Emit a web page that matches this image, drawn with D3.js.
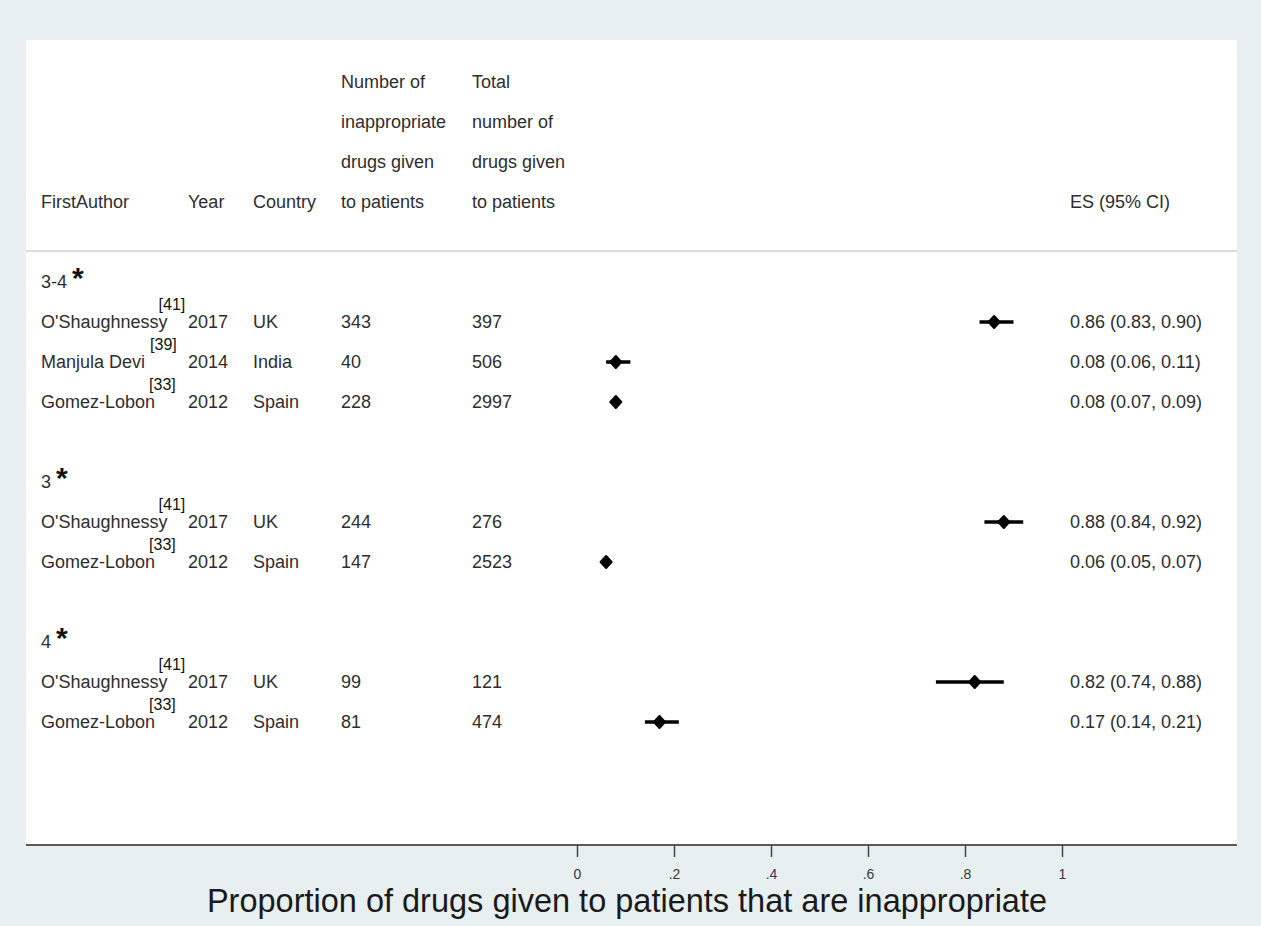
<!DOCTYPE html>
<html>
<head>
<meta charset="utf-8">
<script src="https://cdn.jsdelivr.net/npm/d3@7"></script>
<style>
  body { margin: 0; background: #e8eff1; }
  svg { display: block; font-family: "Liberation Sans", Arial, sans-serif; }
</style>
</head>
<body>
<svg id="chart"></svg>
<script>
// ---- data ----
const groups = ["3-4", "3", "4"];
const authors = ["O'Shaughnessy", "Manjula Devi", "Gomez-Lobon", "O'Shaughnessy", "Gomez-Lobon", "O'Shaughnessy", "Gomez-Lobon"];
const refs = ["[41]", "[39]", "[33]", "[41]", "[33]", "[41]", "[33]"];
const studyGroup = [0, 0, 0, 1, 1, 2, 2];
const years = [2017, 2014, 2012, 2017, 2012, 2017, 2012];
const countries = ["UK", "India", "Spain", "UK", "Spain", "UK", "Spain"];
const inappropriate = [343, 40, 228, 244, 147, 99, 81];
const totals = [397, 506, 2997, 276, 2523, 121, 474];
const es = [0.86, 0.08, 0.08, 0.88, 0.06, 0.82, 0.17];
const lower = [0.83, 0.06, 0.07, 0.84, 0.05, 0.74, 0.14];
const upper = [0.90, 0.11, 0.09, 0.92, 0.07, 0.88, 0.21];
const xTicks = [0, 0.2, 0.4, 0.6, 0.8, 1];
const headers = [
  { key: "author", lines: ["FirstAuthor"] },
  { key: "year", lines: ["Year"] },
  { key: "country", lines: ["Country"] },
  { key: "inap", lines: ["Number of", "inappropriate", "drugs given", "to patients"] },
  { key: "total", lines: ["Total", "number of", "drugs given", "to patients"] },
  { key: "es", lines: ["ES (95% CI)"] }
];
const axisTitle = "Proportion of drugs given to patients that are inappropriate";

const width = 1261, height = 926;
const panel = { left: 26, right: 1237, top: 40, bottom: 845 };
const colX = { author: 41, year: 188, country: 253, inap: 341, total: 472, es: 1070 };
const textColor = "#2e2e2e";
const fs = 18;

const svg = d3.select("#chart").attr("width", width).attr("height", height);

svg.append("rect")
  .attr("x", panel.left).attr("y", panel.top)
  .attr("width", panel.right - panel.left).attr("height", panel.bottom - panel.top)
  .attr("fill", "#fff");

// build the row list: group label, its studies, blank spacer
const rows = [];
groups.forEach((g, gi) => {
  rows.push({ type: "group", label: g });
  studyGroup.forEach((sg, i) => { if (sg === gi) rows.push({ type: "study", i }); });
  if (gi < groups.length - 1) rows.push({ type: "blank" });
});

const x = d3.scaleLinear().domain([0, 1]).range([577, 1062]);
const y = d3.scaleLinear().domain([0, rows.length - 1]).range([282, 282 + 40 * (rows.length - 1)]);
const headerY = d3.scaleLinear().domain([0, 3]).range([82, 202]);

// header
headers.forEach(h => {
  const off = 4 - h.lines.length;
  h.lines.forEach((ln, li) => {
    svg.append("text")
      .attr("x", colX[h.key]).attr("y", headerY(off + li))
      .attr("dy", "0.35em")
      .attr("font-size", fs).attr("fill", textColor)
      .text(ln);
  });
});

svg.append("line")
  .attr("x1", panel.left).attr("x2", panel.right)
  .attr("y1", 251).attr("y2", 251)
  .attr("stroke", "#dcdcdc").attr("stroke-width", 2);

// group labels with asterisk
rows.forEach((r, ri) => {
  if (r.type !== "group") return;
  const t = svg.append("text")
    .attr("x", colX.author).attr("y", y(ri)).attr("dy", "0.35em")
    .attr("font-size", fs).attr("fill", textColor);
  t.append("tspan").text(r.label);
  t.append("tspan").attr("dx", 5).attr("dy", 0).attr("font-size", 30)
    .attr("font-weight", "bold").attr("fill", "#111").text("*");
});

const studyRows = rows.map((r, ri) => ({ ...r, ri })).filter(r => r.type === "study");
const refShift = { "O'Shaughnessy": -9, "Manjula Devi": 5, "Gomez-Lobon": -6 };

const cells = svg.selectAll(".study").data(studyRows).enter().append("g").attr("class", "study");
cells.each(function (d) {
  const g = d3.select(this);
  const i = d.i, cy = y(d.ri);
  const name = g.append("text")
    .attr("x", colX.author).attr("y", cy).attr("dy", "0.35em")
    .attr("font-size", fs).attr("fill", textColor).text(authors[i]);
  const w = name.node().getComputedTextLength();
  g.append("text")
    .attr("x", colX.author + w + refShift[authors[i]]).attr("y", cy - 18).attr("dy", "0.35em")
    .attr("font-size", 16).attr("fill", "#111").text(refs[i]);
  [["year", years[i]], ["country", countries[i]], ["inap", inappropriate[i]], ["total", totals[i]]].forEach(([k, v]) => {
    g.append("text")
      .attr("x", colX[k]).attr("y", cy).attr("dy", "0.35em")
      .attr("font-size", fs).attr("fill", textColor).text(v);
  });
  g.append("text")
    .attr("x", colX.es).attr("y", cy).attr("dy", "0.35em")
    .attr("font-size", fs).attr("fill", textColor)
    .text(`${es[i].toFixed(2)} (${lower[i].toFixed(2)}, ${upper[i].toFixed(2)})`);

  // CI line and diamond point estimate
  g.append("line")
    .attr("x1", x(lower[i])).attr("x2", x(upper[i]))
    .attr("y1", cy).attr("y2", cy)
    .attr("stroke", "#000").attr("stroke-width", 3.5);
  const px = x(es[i]);
  g.append("path")
    .attr("d", `M${px},${cy - 6}L${px + 5.5},${cy}L${px},${cy + 6}L${px - 5.5},${cy}Z`)
    .attr("fill", "#000").attr("stroke", "#000").attr("stroke-width", 2).attr("stroke-linejoin", "round");
});

// x axis
svg.append("line")
  .attr("x1", panel.left).attr("x2", panel.right)
  .attr("y1", panel.bottom).attr("y2", panel.bottom)
  .attr("stroke", "#5a5a5a").attr("stroke-width", 2);

const axis = d3.axisBottom(x).tickValues(xTicks).tickSize(12).tickPadding(12)
  .tickFormat(d => d === 0 ? "0" : d === 1 ? "1" : d3.format(".1f")(d).replace(/^0/, ""));
const ax = svg.append("g").attr("transform", `translate(0,${panel.bottom})`).call(axis);
ax.select(".domain").remove();
ax.selectAll(".tick line").attr("stroke", "#444").attr("stroke-width", 1.5);
ax.selectAll(".tick text").attr("font-size", 14).attr("fill", "#3a3a3a")
  .attr("font-family", "'Liberation Sans', Arial, sans-serif");

svg.append("text")
  .attr("x", 627).attr("y", 912)
  .attr("text-anchor", "middle")
  .attr("font-size", 32.5).attr("fill", "#1a1a1a")
  .text(axisTitle);
</script>
</body>
</html>
